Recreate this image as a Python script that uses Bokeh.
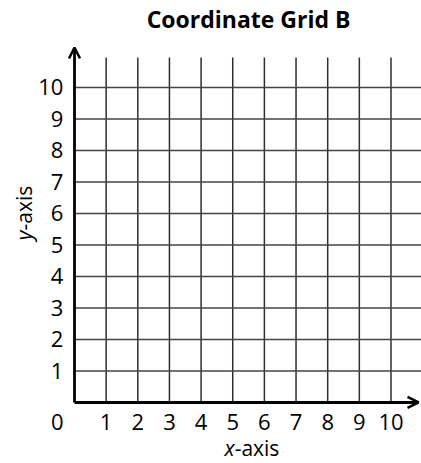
from bokeh.plotting import figure
from bokeh.models import Range1d, Arrow, OpenHead
from bokeh.core.properties import value
from bokeh.embed import file_html
from bokeh.resources import INLINE

title_text = "Coordinate Grid B"
x_ticks = [1, 2, 3, 4, 5, 6, 7, 8, 9, 10]
y_ticks = [1, 2, 3, 4, 5, 6, 7, 8, 9, 10]
x_labels = [str(v) for v in x_ticks]
y_labels = [str(v) for v in y_ticks]
origin_label = "0"

W, H = 421, 463
x0, x1 = -2.338, 10.964
y0, y1 = -1.937, 12.762

p = figure(width=W, height=H, output_backend="svg", toolbar_location=None,
           x_range=Range1d(x0, x1), y_range=Range1d(y0, y1),
           x_axis_type=None, y_axis_type=None, min_border=0,
           outline_line_color=None, background_fill_color="white",
           border_fill_color="white")

FONT = value("Open Sans")
y_top = 10.95

# vertical grid lines
p.segment(x0=x_ticks, y0=[0] * len(x_ticks), x1=x_ticks, y1=[y_top] * len(x_ticks),
          line_color="#2e2e2e", line_width=1.5)
# horizontal grid lines
p.segment(x0=[0] * len(y_ticks), y0=y_ticks, x1=[x1] * len(y_ticks), y1=y_ticks,
          line_color="#444444", line_width=1.4)

# axes with arrows
p.add_layout(Arrow(end=OpenHead(size=11, line_width=2.5, line_color="black"),
                   x_start=0, y_start=0, x_end=0, y_end=11.27,
                   line_width=2.8, line_color="black"))
p.add_layout(Arrow(end=OpenHead(size=11, line_width=2.5, line_color="black"),
                   x_start=0, y_start=0, x_end=10.87, y_end=0,
                   line_width=2.8, line_color="black"))

# tick labels
p.text(x=[-0.35] * len(y_ticks), y=y_ticks, text=y_labels, text_font=FONT,
       text_font_size="22px", text_align="right", text_baseline="middle",
       text_color="black")
p.text(x=x_ticks, y=[-0.62] * len(x_ticks), text=x_labels, text_font=FONT,
       text_font_size="22px", text_align="center", text_baseline="middle",
       text_color="black")
p.text(x=[-0.54], y=[-0.62], text=[origin_label], text_font=FONT,
       text_font_size="22px", text_align="center", text_baseline="middle",
       text_color="black")

# title
p.text(x=[5.5], y=[12.16], text=[title_text], text_font=FONT,
       text_font_size="23px", text_font_style="bold", text_align="center",
       text_baseline="middle", text_color="black")

# axis titles
p.text(x=[5.06], y=[-1.45], text=["x"], text_font=FONT, text_font_size="21px",
       text_font_style="italic", text_align="right", text_baseline="middle")
p.text(x=[5.06], y=[-1.45], text=["-axis"], text_font=FONT, text_font_size="21px",
       text_align="left", text_baseline="middle")
p.text(x=[-1.58], y=[5.46], text=["y"], text_font=FONT, text_font_size="21px",
       text_font_style="italic", text_align="right", text_baseline="middle",
       angle=1.5708)
p.text(x=[-1.58], y=[5.46], text=["-axis"], text_font=FONT, text_font_size="21px",
       text_align="left", text_baseline="middle", angle=1.5708)

open("out.html", "w").write(file_html(p, INLINE))
